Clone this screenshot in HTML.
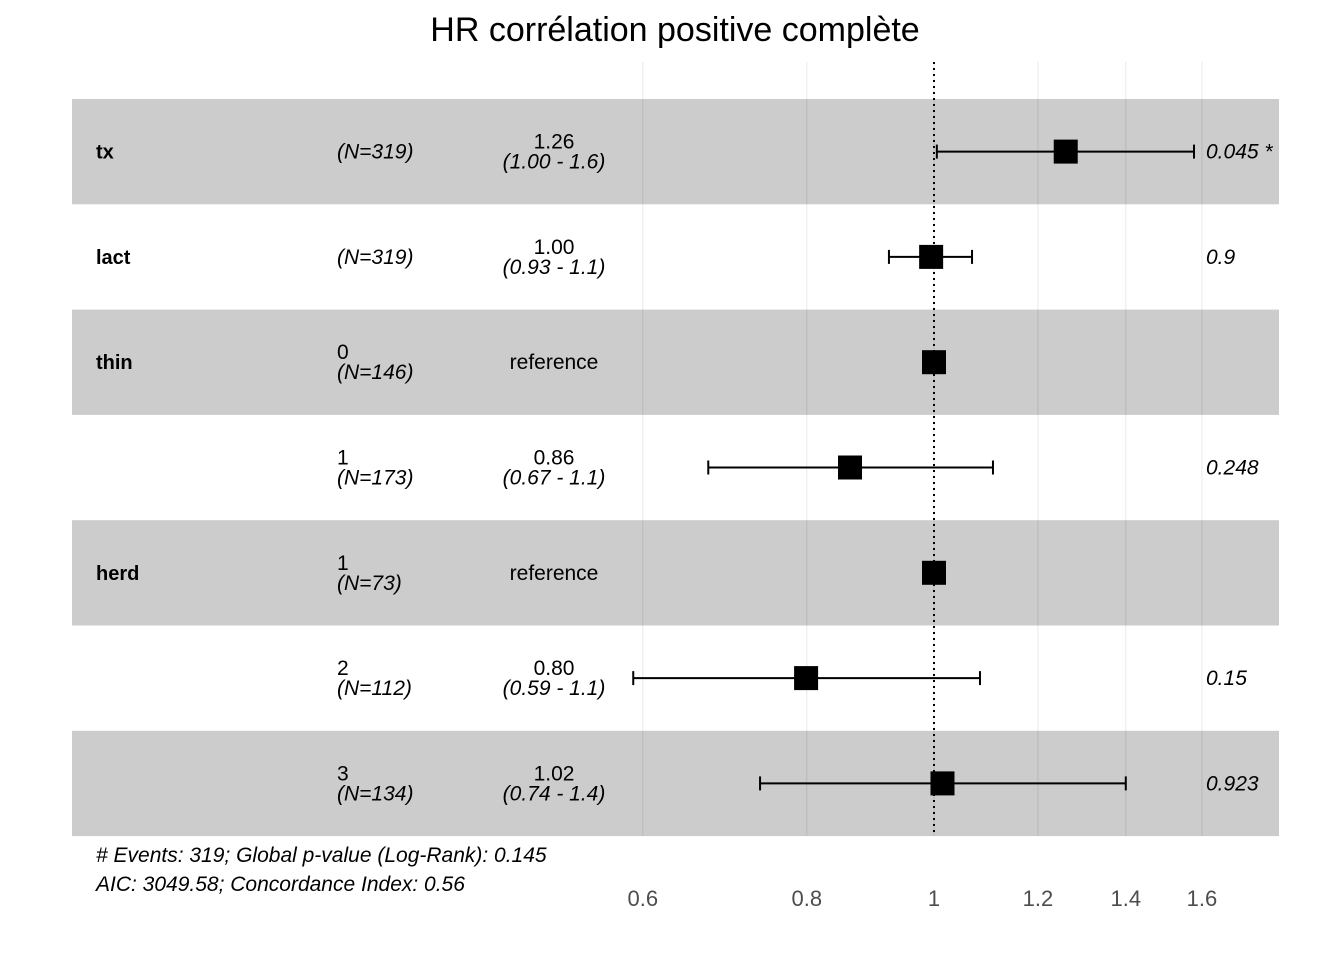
<!DOCTYPE html>
<html><head><meta charset="utf-8"><style>
body{margin:0;background:#fff;font-family:"Liberation Sans",Arial,sans-serif}
svg text{font-family:"Liberation Sans",Arial,sans-serif}
</style></head><body>
<svg id="chart" width="1344" height="960" xmlns="http://www.w3.org/2000/svg">
<text x="675" y="41" font-size="34" text-anchor="middle" fill="#000">HR corrélation positive complète</text>
<g id="bands"></g><g id="grid"></g><g id="texts"></g><g id="marks"></g>
<text x="96" y="862" font-size="21" font-style="italic">#&#160;Events: 319; Global p-value (Log-Rank): 0.145</text>
<text x="96" y="891" font-size="21" font-style="italic">AIC: 3049.58; Concordance Index: 0.56</text>
</svg>
<script>
const vars=["tx","lact","thin","","herd","",""];
const levels=["","","0","1","1","2","3"];
const ns=["(N=319)","(N=319)","(N=146)","(N=173)","(N=73)","(N=112)","(N=134)"];
const hrText=["1.26","1.00","reference","0.86","reference","0.80","1.02"];
const ciText=["(1.00 - 1.6)","(0.93 - 1.1)","","(0.67 - 1.1)","","(0.59 - 1.1)","(0.74 - 1.4)"];
const est=[1.26,0.995,1,0.863,1,0.799,1.015];
const lower=[1.005,0.924,null,0.673,null,0.590,0.737];
const upper=[1.578,1.069,null,1.109,null,1.084,1.40];
const pvals=["0.045 *","0.9","","0.248","","0.15","0.923"];
const ticks=[0.6,0.8,1,1.2,1.4,1.6];
const SVGNS="http://www.w3.org/2000/svg";
const xs=v=>934+570*Math.log(v);
const rowTop=i=>99+i*105.3;
function mk(parent,tag,attrs,txt){const e=document.createElementNS(SVGNS,tag);for(const k in attrs)e.setAttribute(k,attrs[k]);if(txt!==undefined)e.textContent=txt;document.getElementById(parent).appendChild(e);return e;}
vars.forEach((v,i)=>{if(i%2===0){const r=mk("bands","rect",{x:72,y:rowTop(i),width:1207,height:105.3,fill:"#cccccc"});

}});
ticks.forEach(t=>{const l=mk("grid","line",{x1:xs(t),x2:xs(t),y1:62,y2:836,stroke:"#000","stroke-opacity":0.09,"stroke-width":1});


const tt=mk("grid","text",{x:xs(t),y:906,"font-size":22,"text-anchor":"middle",fill:"#4d4d4d"},String(t));

});
const ref=mk("grid","line",{x1:934,x2:934,y1:62,y2:836,stroke:"#000","stroke-width":2,"stroke-dasharray":"2,4"});


vars.forEach((v,i)=>{const c=rowTop(i)+52.6;
if(v){const t=mk("texts","text",{x:96,y:c+7,"font-size":20,"font-weight":"bold"},v);}
if(levels[i]){const t=mk("texts","text",{x:337,y:c-3,"font-size":21},levels[i]);
const n=mk("texts","text",{x:337,y:c+17,"font-size":21,"font-style":"italic"},ns[i]);}
else{const n=mk("texts","text",{x:337,y:c+7,"font-size":21,"font-style":"italic"},ns[i]);}
if(ciText[i]){const h=mk("texts","text",{x:554,y:c-3,"font-size":21,"text-anchor":"middle"},hrText[i]);
const ci=mk("texts","text",{x:554,y:c+17,"font-size":21,"text-anchor":"middle","font-style":"italic"},ciText[i]);}
else{const h=mk("texts","text",{x:554,y:c+7,"font-size":21,"text-anchor":"middle"},hrText[i]);}
if(pvals[i]){const p=mk("texts","text",{x:1206,y:c+7,"font-size":21,"font-style":"italic"},pvals[i]);}
if(lower[i]!==null){const l=mk("marks","line",{x1:xs(lower[i]),x2:xs(upper[i]),y1:c,y2:c,stroke:"#000","stroke-width":2});
[lower[i],upper[i]].forEach(b=>{const cap=mk("marks","line",{x1:xs(b),x2:xs(b),y1:c-7,y2:c+7,stroke:"#000","stroke-width":2});});}
const s=mk("marks","rect",{x:xs(est[i])-12,y:c-12,width:24,height:24,fill:"#000"});


});
</script>
</body></html>
